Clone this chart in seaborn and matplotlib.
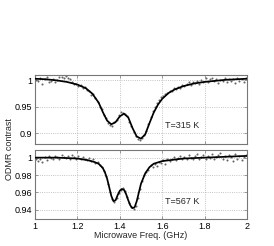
import numpy as np
import pandas as pd
import matplotlib
matplotlib.use("Agg")
import matplotlib.pyplot as plt
import seaborn as sns

# ---------------- data ----------------
fit_f_top = [1.00, 1.05, 1.10, 1.15, 1.20, 1.24, 1.27, 1.30, 1.32, 1.34, 1.36, 1.38, 1.40,
             1.42, 1.44, 1.46, 1.48, 1.50, 1.52, 1.54, 1.56, 1.58, 1.60, 1.63, 1.66, 1.70,
             1.75, 1.80, 1.85, 1.90, 1.95, 2.00]
fit_top = [1.003, 1.002, 1.000, 0.997, 0.992, 0.985, 0.975, 0.958, 0.940, 0.924, 0.917, 0.921,
           0.932, 0.937, 0.930, 0.910, 0.894, 0.890, 0.898, 0.919, 0.939, 0.954, 0.965, 0.976,
           0.983, 0.989, 0.994, 0.997, 0.999, 1.001, 1.002, 1.003]

fit_f_bot = [1.00, 1.10, 1.20, 1.25, 1.28, 1.30, 1.32, 1.33, 1.34, 1.35, 1.36, 1.37, 1.38,
             1.39, 1.40, 1.41, 1.42, 1.43, 1.44, 1.45, 1.46, 1.47, 1.48, 1.49, 1.50, 1.52,
             1.54, 1.56, 1.60, 1.70, 1.80, 1.90, 2.00]
fit_bot = [1.000, 1.000, 0.999, 0.997, 0.995, 0.993, 0.988, 0.983, 0.976, 0.966, 0.956, 0.950,
           0.951, 0.957, 0.962, 0.964, 0.963, 0.958, 0.951, 0.945, 0.942, 0.943, 0.950, 0.960,
           0.970, 0.982, 0.989, 0.993, 0.996, 0.999, 1.000, 1.001, 1.002]

freq_pts = [1.005, 1.015, 1.025, 1.035, 1.045, 1.055, 1.065, 1.075, 1.085, 1.095,
            1.105, 1.115, 1.125, 1.135, 1.145, 1.155, 1.165, 1.175, 1.185, 1.195,
            1.205, 1.215, 1.225, 1.235, 1.245, 1.255, 1.265, 1.275, 1.285, 1.295,
            1.305, 1.315, 1.325, 1.335, 1.345, 1.355, 1.365, 1.375, 1.385, 1.395,
            1.405, 1.415, 1.425, 1.435, 1.445, 1.455, 1.465, 1.475, 1.485, 1.495,
            1.505, 1.515, 1.525, 1.535, 1.545, 1.555, 1.565, 1.575, 1.585, 1.595,
            1.605, 1.615, 1.625, 1.635, 1.645, 1.655, 1.665, 1.675, 1.685, 1.695,
            1.705, 1.715, 1.725, 1.735, 1.745, 1.755, 1.765, 1.775, 1.785, 1.795,
            1.805, 1.815, 1.825, 1.835, 1.845, 1.855, 1.865, 1.875, 1.885, 1.895,
            1.905, 1.915, 1.925, 1.935, 1.945, 1.955, 1.965, 1.975, 1.985, 1.995]

pts_top = [1.001, 0.998, 1.004, 0.993, 1.002, 1.006, 0.997, 0.999, 1.003, 0.996,
           1.001, 1.007, 1.006, 1.004, 1.008, 1.005, 1.002, 0.996, 0.993, 0.994,
           0.990, 0.992, 0.986, 0.988, 0.982, 0.980, 0.972, 0.975, 0.966, 0.960,
           0.950, 0.945, 0.934, 0.928, 0.920, 0.916, 0.913, 0.922, 0.925, 0.934,
           0.940, 0.938, 0.936, 0.933, 0.922, 0.913, 0.903, 0.895, 0.890, 0.887,
           0.891, 0.896, 0.905, 0.918, 0.930, 0.943, 0.950, 0.957, 0.962, 0.968,
           0.970, 0.975, 0.977, 0.980, 0.979, 0.985, 0.983, 0.988, 0.986, 0.992,
           0.989, 0.993, 0.996, 0.991, 0.997, 0.995, 0.999, 0.994, 1.001, 0.997,
           1.004, 0.996, 1.002, 1.005, 0.998, 1.003, 0.995, 1.001, 0.999, 1.004,
           0.996, 1.002, 0.998, 1.003, 0.995, 1.004, 0.999, 1.002, 0.997, 1.004]

pts_bot = [0.998, 0.996, 0.999, 0.995, 1.001, 0.997, 1.002, 1.000, 0.998, 1.002,
           1.001, 0.999, 1.003, 1.001, 1.000, 1.002, 0.998, 1.003, 1.001, 0.999,
           1.002, 0.998, 1.001, 0.999, 0.997, 1.000, 0.996, 0.998, 0.994, 0.995,
           0.991, 0.989, 0.985, 0.979, 0.970, 0.961, 0.953, 0.949, 0.954, 0.959,
           0.963, 0.965, 0.962, 0.955, 0.948, 0.943, 0.941, 0.945, 0.954, 0.964,
           0.973, 0.980, 0.984, 0.986, 0.991, 0.989, 0.993, 0.990, 0.995, 0.994,
           0.997, 0.993, 0.998, 0.996, 0.999, 1.001, 0.997, 1.000, 1.002, 0.998,
           1.001, 0.999, 1.003, 1.000, 0.998, 1.002, 1.004, 0.999, 1.001, 1.003,
           0.998, 1.002, 1.000, 1.004, 0.999, 1.001, 1.003, 1.005, 0.998, 1.002,
           0.997, 1.003, 1.001, 0.996, 1.004, 0.999, 1.002, 0.997, 1.001, 1.003]

labels = ["T=315 K", "T=567 K"]
yticks_top = [0.9, 0.95, 1.0]
ytick_labels_top = ["0.9", "0.95", "1"]
yticks_bot = [0.94, 0.96, 0.98, 1.0]
ytick_labels_bot = ["0.94", "0.96", "0.98", "1"]
xticks = [1.0, 1.2, 1.4, 1.6, 1.8, 2.0]
xtick_labels = ["1", "1.2", "1.4", "1.6", "1.8", "2"]

# ---------------- style ----------------
sns.set_style("whitegrid")
plt.rcParams["font.family"] = ["Liberation Sans", "DejaVu Sans"]
plt.rcParams["font.size"] = 6.5

fig = plt.figure(figsize=(2.74, 2.46), dpi=100)
ax1 = fig.add_axes([0.128, 0.415, 0.773, 0.280])
ax2 = fig.add_axes([0.128, 0.110, 0.773, 0.280])

panels = [
    (ax1, fit_f_top, fit_top, pts_top, labels[0], (0.880, 1.010), yticks_top, ytick_labels_top, 0.914),
    (ax2, fit_f_bot, fit_bot, pts_bot, labels[1], (0.9296, 1.0087), yticks_bot, ytick_labels_bot, 0.9497),
]

for ax, ff, fv, pv, lab, ylim, yt, ytl, ty in panels:
    sns.scatterplot(x=freq_pts, y=pv, ax=ax, s=2.2, color="#666666", edgecolor=None,
                    linewidth=0, zorder=2)
    sns.lineplot(x=ff, y=fv, ax=ax, color="black", linewidth=1.25, zorder=3)
    ax.set_xlim(1.0, 2.0)
    ax.set_ylim(*ylim)
    ax.set_yticks(yt)
    ax.set_yticklabels(ytl)
    ax.set_xticks(xticks)
    ax.grid(True, linestyle=":", color="#b0b0b0", linewidth=0.6)
    ax.tick_params(direction="in", length=2, width=0.5, colors="#777777",
                   labelcolor="black", labelsize=6.5, pad=2,
                   top=True, right=True, left=True, bottom=True)
    for sp in ax.spines.values():
        sp.set_color("#777777")
        sp.set_linewidth(0.8)
    ax.text(1.615, ty, lab, fontsize=6.5, ha="left", va="center")

ax1.set_xticklabels([])
ax2.set_xticklabels(xtick_labels)
ax2.set_xlabel("Microwave Freq. (GHz)", fontsize=6.5, labelpad=0.5)
fig.text(0.035, 0.395, "ODMR contrast", rotation=90, ha="center", va="center", fontsize=6.5)

fig.savefig("out.png", dpi=100)
